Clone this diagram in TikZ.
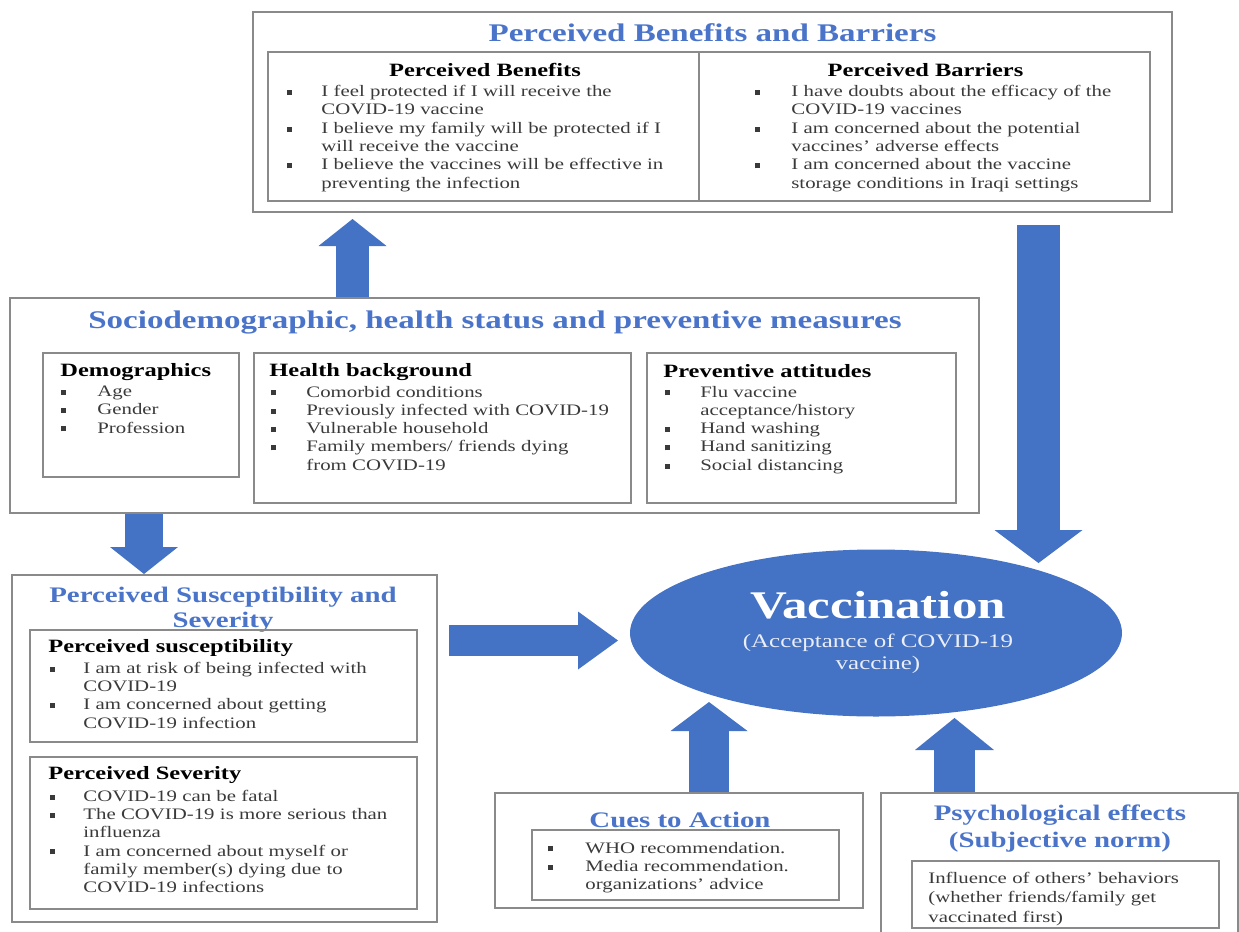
\documentclass[tikz,border=0pt]{standalone}
\usepackage{fontspec}
\setmainfont{Liberation Serif}[FakeStretch=1.3]
\usepackage{xcolor}
\usetikzlibrary{arrows.meta, fit, shapes.geometric, positioning}

\definecolor{vacblue}{HTML}{4472C4}
\definecolor{titleblue}{HTML}{4A74C9}
\definecolor{boxgray}{HTML}{8A8A8A}
\definecolor{bodygray}{HTML}{3A3A3A}

\setlength{\lineskiplimit}{-20pt}
\newcommand{\bul}{\rule[0.8pt]{2.5pt}{2.5pt}}
\newcommand{\itm}[2][17.5pt]{\noindent\hangindent=#1\hangafter=1\makebox[#1][l]{\bul}#2\par}
\newcommand{\bodyfont}{\fontsize{8}{9.15}\selectfont}
\newcommand{\headfont}{\fontsize{9.4}{11}\selectfont\bfseries}
\newcommand{\titlefont}{\fontsize{12.7}{14}\selectfont\bfseries}
\newcommand{\midfont}{\fontsize{11.1}{12.5}\selectfont\bfseries}

\begin{document}
\begin{tikzpicture}[x=0.5pt, y=-0.5pt,
    box/.style={draw=boxgray, line width=1pt, inner sep=0pt, fit={#1}},
    ttl/.style={text=titleblue, font=\titlefont, inner sep=0pt},
    mid/.style={text=titleblue, font=\midfont, inner sep=0pt, align=center},
    hdr/.style={font=\headfont, text=black, inner sep=0pt},
    lst/.style={font=\bodyfont, text=bodygray, inner sep=0pt, anchor=north west, text width=200pt},
    blk/.style n args={3}{draw=vacblue, line width=#1,
        -{Triangle[length=#2, width=#3, line width=0pt]}}]
\useasboundingbox (0,0) rectangle (1239,932);

% perceived benefits and barriers
\node[box={(253,12) (1172,212)}] (pbb) {};
\node[box={(268,52) (1150,201)}] (pbbin) {};
\coordinate (divx) at (699,0);
\draw[draw=boxgray, line width=1pt] (pbbin.north -| divx) -- (pbbin.south -| divx);
\node[ttl] (pbbtitle) at (712.5,33) {Perceived Benefits and Barriers};
\node[hdr] (benhead) at (485,70) {Perceived Benefits};
\node[hdr] (barhead) at (925.5,70) {Perceived Barriers};
\node[lst] (benlist) at (287,85) {%
\itm[17pt]{I feel protected if I will receive the\newline COVID-19 vaccine}
\itm[17pt]{I believe my family will be protected if I\newline will receive the vaccine}
\itm[17pt]{I believe the vaccines will be effective in\newline preventing the infection}};
\node[lst] (barlist) at (755,85) {%
\itm[18pt]{I have doubts about the efficacy of the\newline COVID-19 vaccines}
\itm[18pt]{I am concerned about the potential\newline vaccines' adverse effects}
\itm[18pt]{I am concerned about the vaccine\newline storage conditions in Iraqi settings}};

% sociodemographic block
\node[box={(10,298) (979,513)}] (socio) {};
\node[ttl] (sociotitle) at (495,322) {Sociodemographic, health status and preventive measures};
\node[box={(43,353) (239,477)}] (demo) {};
\node[hdr, anchor=west] (demohead) at (60,372) {Demographics};
\node[lst] (demolist) at (61,385.5) {%
\itm[18pt]{Age}
\itm[18pt]{Gender}
\itm[18pt]{Profession}};
\node[box={(254,353) (631,503)}] (health) {};
\node[hdr, anchor=west] (healthhead) at (269,372) {Health background};
\node[lst] (healthlist) at (271,385.5) {%
\itm{Comorbid conditions}
\itm{Previously infected with COVID-19}
\itm{Vulnerable household}
\itm{Family members/ friends dying\newline from COVID-19}};
\node[box={(647,353) (956,503)}] (prev) {};
\node[hdr, anchor=west] (prevhead) at (663,371) {Preventive attitudes};
\node[lst] (prevlist) at (665,385.5) {%
\itm{Flu vaccine\newline acceptance/history}
\itm{Hand washing}
\itm{Hand sanitizing}
\itm{Social distancing}};

% susceptibility and severity
\node[box={(12,575) (437,922)}] (suscept) {};
\node[mid] (suscepttitle) at (223,610) {Perceived Susceptibility and\\Severity};
\node[box={(30,630) (417,742)}] (susin) {};
\node[hdr, anchor=west] (sushead) at (48,648) {Perceived susceptibility};
\node[lst] (suslist) at (50,661.5) {%
\itm[16.5pt]{I am at risk of being infected with\newline COVID-19}
\itm[16.5pt]{I am concerned about getting\newline COVID-19 infection}};
\node[box={(30,757) (417,909)}] (sevin) {};
\node[hdr, anchor=west] (sevhead) at (48,775) {Perceived Severity};
\node[lst] (sevlist) at (50,789.5) {%
\itm[16.5pt]{COVID-19 can be fatal}
\itm[16.5pt]{The COVID-19 is more serious than\newline influenza}
\itm[16.5pt]{I am concerned about myself or\newline family member(s) dying due to\newline COVID-19 infections}};

% vaccination
\node[ellipse, fill=vacblue, minimum width=246pt, minimum height=83.5pt, inner sep=0pt] (vac) at (876,633) {};
\node[font=\fontsize{19.6}{20}\selectfont\bfseries, text=white, inner sep=0pt] (vactitle) at (878,605) {Vaccination};
\node[font=\fontsize{9.6}{11}\selectfont, text=white!88!vacblue, align=center, inner sep=0pt] (vacsub) at (878,653.5) {(Acceptance of COVID-19\\vaccine)};

% cues to action
\node[box={(495,793) (863,908)}] (cues) {};
\node[mid] (cuestitle) at (680,820) {Cues to Action};
\node[box={(532,830) (839,900)}] (cuesin) {};
\node[lst] (cueslist) at (548,841.5) {%
\itm[18.5pt]{WHO recommendation.}
\itm[18.5pt]{Media recommendation.\newline organizations' advice}};

% psychological effects
\node[box={(881,793) (1238,945)}] (psych) {};
\node[mid, font=\fontsize{11.1}{13.5}\selectfont\bfseries] (psychtitle) at (1060,829) {Psychological effects\\(Subjective norm)};
\node[box={(912,861) (1219,928)}] (psychin) {};
\node[lst, font=\fontsize{8}{9.75}\selectfont] (psychtext) at (928,871.5) {%
\noindent Influence of others' behaviors\newline (whether friends/family get\newline vaccinated first)};

% block arrows
\coordinate (a1) at (352.5,0);
\coordinate (a2) at (1038.5,0);
\coordinate (a2tip) at (1038.5,563);
\coordinate (a3) at (144,0);
\coordinate (a4tip) at (618,640.5);
\coordinate (a5tip) at (709,702);
\coordinate (a6tip) at (954.5,718);
\draw[blk={16.5pt}{13.5pt}{34pt}, shorten >=3pt] (socio.north -| a1) -- (pbb.south -| a1);
\draw[blk={21.5pt}{16.5pt}{44pt}, shorten <=6pt] (pbb.south -| a2) -- (a2tip);
\draw[blk={19pt}{13.5pt}{34pt}] (socio.south -| a3) -- (suscept.north -| a3);
\draw[blk={15.5pt}{20pt}{29pt}, shorten <=5.5pt] (suscept.east |- a4tip) -- (a4tip);
\draw[blk={20pt}{14.5pt}{38.5pt}] (cues.north -| a5tip) -- (a5tip);
\draw[blk={20.5pt}{16pt}{39.5pt}] (psych.north -| a6tip) -- (a6tip);
\end{tikzpicture}
\end{document}
